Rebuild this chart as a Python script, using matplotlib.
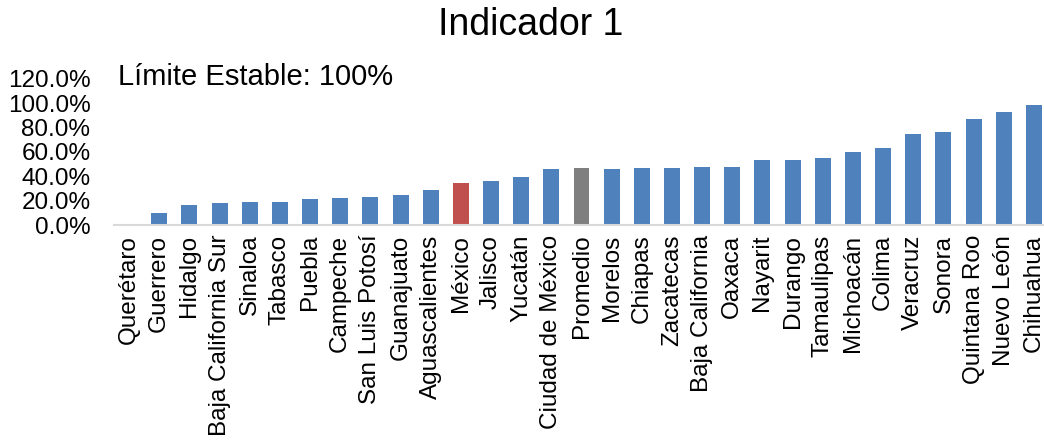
import matplotlib
matplotlib.use("Agg")
import matplotlib.pyplot as plt
from matplotlib.ticker import PercentFormatter

plt.rcParams['font.family'] = ['Liberation Sans', 'DejaVu Sans']

# datos
estados = ['Querétaro', 'Guerrero', 'Hidalgo', 'Baja California Sur', 'Sinaloa',
           'Tabasco', 'Puebla', 'Campeche', 'San Luis Potosí', 'Guanajuato',
           'Aguascalientes', 'México', 'Jalisco', 'Yucatán', 'Ciudad de México',
           'Promedio', 'Morelos', 'Chiapas', 'Zacatecas', 'Baja California',
           'Oaxaca', 'Nayarit', 'Durango', 'Tamaulipas', 'Michoacán', 'Colima',
           'Veracruz', 'Sonora', 'Quintana Roo', 'Nuevo León', 'Chihuahua']
valores = [0.0, 9.9, 16.5, 18.0, 18.5, 18.5, 21.0, 21.8, 23.2, 24.8, 29.0,
           34.8, 36.4, 39.2, 46.0, 46.6, 46.4, 47.2, 47.2, 48.0, 48.0, 53.2,
           53.8, 55.2, 59.6, 62.9, 75.0, 76.7, 87.5, 92.7, 98.5]
destacados = {'México': '#C0504D', 'Promedio': '#7F7F7F'}

colores = [destacados.get(e, '#4F81BD') for e in estados]

fig = plt.figure(figsize=(10.44, 4.4), dpi=100)
ax = fig.add_axes([114 / 1044, 215 / 440, 935 / 1044, 146 / 440])

x = range(len(estados))
ax.bar(x, valores, width=0.53, color=colores)

ax.set_xlim(-0.5, len(estados) - 0.5)
ax.set_ylim(0, 120)
ax.set_yticks(range(0, 121, 20))
ax.yaxis.set_major_formatter(PercentFormatter(decimals=1))
ax.set_xticks(list(x))
ax.set_xticklabels(estados, rotation=90, va='top', ha='center')
ax.tick_params(axis='y', length=0, pad=17, labelsize=17.5)
ax.tick_params(axis='x', length=0, pad=7, labelsize=17.5)

for lado in ['top', 'right', 'left']:
    ax.spines[lado].set_visible(False)
ax.spines['bottom'].set_color('#D9D9D9')
ax.spines['bottom'].set_linewidth(1.5)

fig.text(531 / 1044, 1 - 25 / 440, 'Indicador 1', ha='center', va='center',
         fontsize=27)
fig.text(118 / 1044, 1 - 77 / 440, 'Límite Estable: 100%', ha='left',
         va='center', fontsize=21)

fig.savefig('out.png', dpi=100)
